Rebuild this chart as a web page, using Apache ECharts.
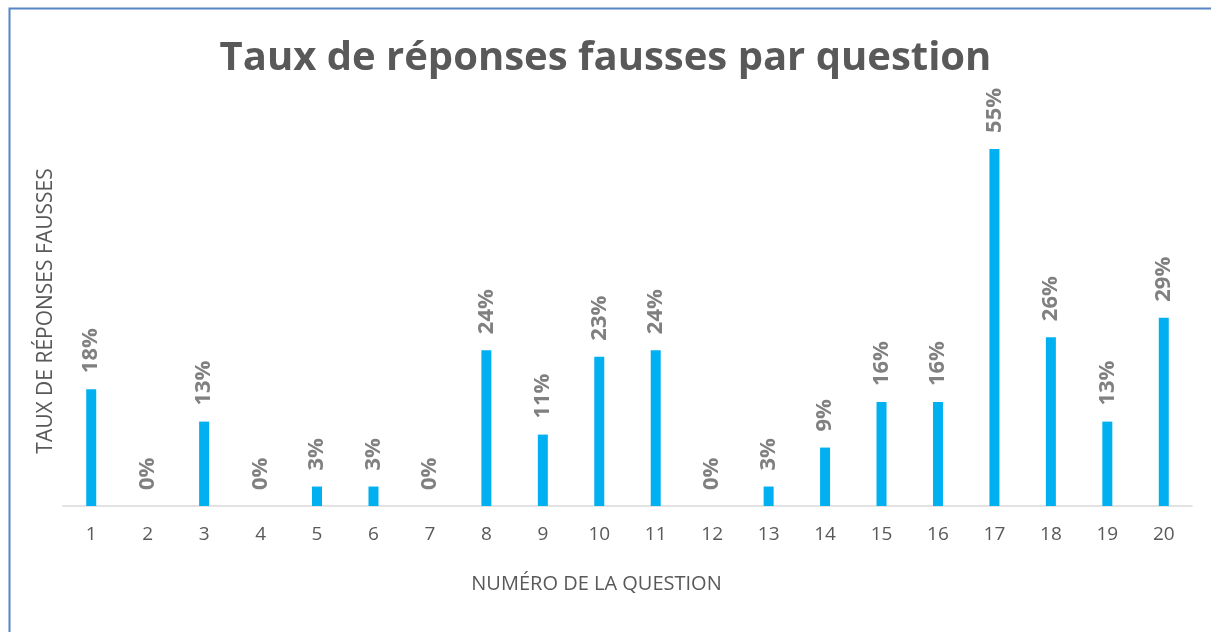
<!DOCTYPE html>
<html>
<head>
<meta charset="utf-8">
<script src="https://cdn.jsdelivr.net/npm/echarts@6/dist/echarts.min.js"></script>
<style>
html,body{margin:0;padding:0;background:#fff;}
#chart{width:1211px;height:632px;}
</style>
</head>
<body>
<div id="chart"></div>
<script>
const titleText = 'Taux de réponses fausses par question';
const xAxisName = 'NUMÉRO DE LA QUESTION';
const yAxisName = 'TAUX DE RÉPONSES FAUSSES';
const categories = ['1','2','3','4','5','6','7','8','9','10','11','12','13','14','15','16','17','18','19','20'];
const wrongRates = [18,0,13,0,3,3,0,24,11,23,24,0,3,9,16,16,55,26,13,29];

const chart = echarts.init(document.getElementById('chart'));
const font = "'Open Sans', sans-serif";
chart.setOption({
  backgroundColor: '#ffffff',
  animation: false,
  title: {
    text: titleText,
    left: 'center',
    top: 34,
    textStyle: { fontFamily: font, fontSize: 40, fontWeight: 'bold', color: '#595959' }
  },
  graphic: [{
    type: 'polyline',
    shape: { points: [[9.5, 632], [9.5, 8.5], [1211, 8.5]] },
    style: { stroke: '#5585C5', lineWidth: 2, fill: null },
    silent: true
  }],
  grid: { left: 63, right: 19, top: 84, bottom: 126, containLabel: false },
  xAxis: {
    type: 'category',
    data: categories,
    name: xAxisName,
    nameLocation: 'middle',
    nameGap: 68,
    nameTextStyle: { fontFamily: font, fontSize: 20, color: '#595959', padding: [0, 62, 0, 0] },
    axisLine: { lineStyle: { color: '#D9D9D9', width: 1.5 } },
    axisTick: { show: false },
    axisLabel: { fontFamily: font, fontSize: 19, color: '#595959', margin: 19 }
  },
  yAxis: {
    type: 'value',
    min: 0,
    max: 65,
    name: yAxisName,
    nameLocation: 'middle',
    nameGap: 6,
    nameRotate: 90,
    nameTextStyle: { fontFamily: font, fontSize: 21, color: '#595959', padding: [0, 32, 0, 0] },
    axisLine: { show: false },
    axisTick: { show: false },
    axisLabel: { show: false },
    splitLine: { show: false }
  },
  series: [{
    type: 'bar',
    data: wrongRates,
    barWidth: 10,
    itemStyle: { color: '#00B0F0' },
    label: {
      show: true,
      position: 'top',
      rotate: 90,
      align: 'left',
      verticalAlign: 'middle',
      distance: 16,
      formatter: '{c}%',
      fontFamily: font,
      fontSize: 22,
      fontWeight: 'bold',
      color: '#808080'
    }
  }]
});
</script>
</body>
</html>
